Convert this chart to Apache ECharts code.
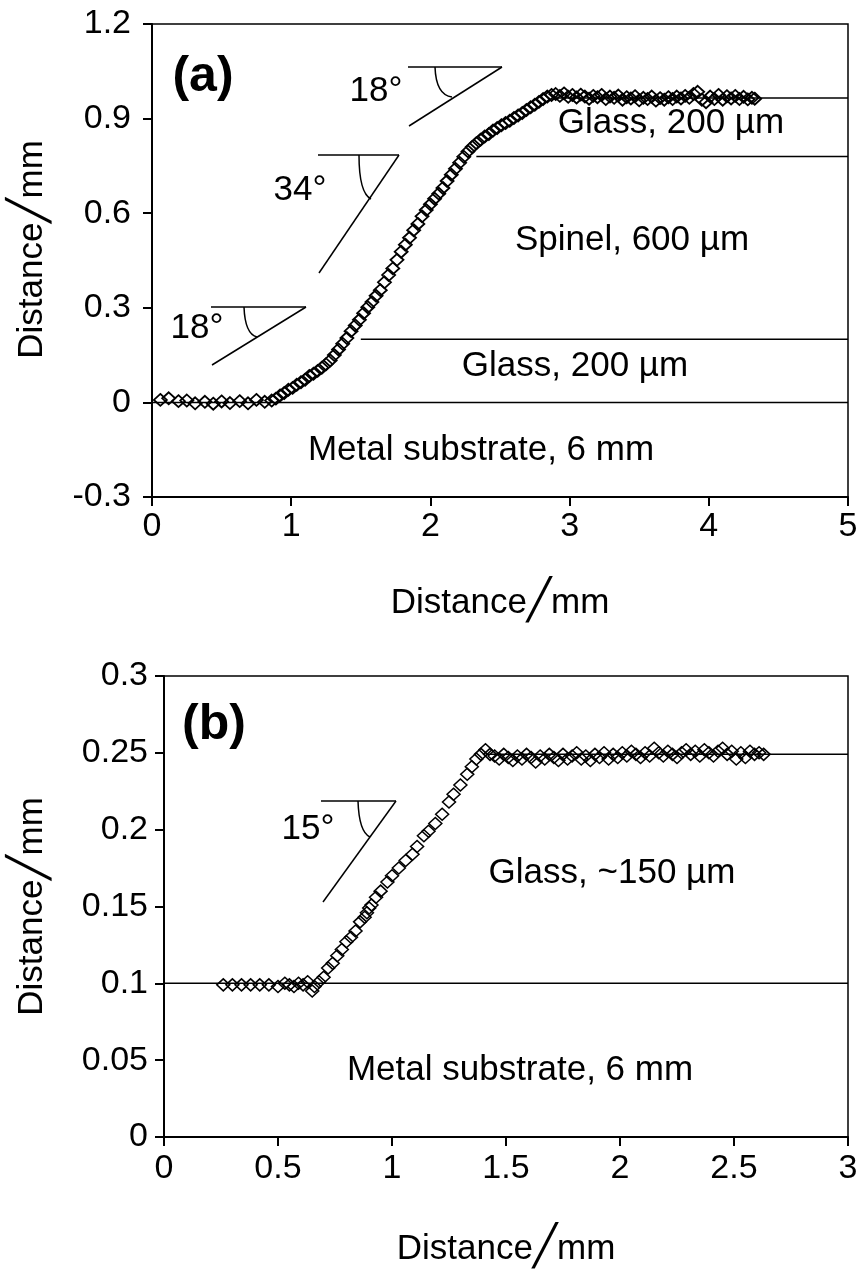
<!DOCTYPE html>
<html>
<head>
<meta charset="utf-8">
<script src="https://cdn.jsdelivr.net/npm/echarts@6/dist/echarts.min.js"></script>
<style>
  html, body { margin: 0; background: #fff; }
  #chart { width: 862px; height: 1270px; }
</style>
</head>
<body>
<div id="chart"></div>
<script>
// (a) height profile over spinel + glass coating, [x mm, y mm]
const profileA = [
  [0.06,0.008],[0.12,0.013],[0.19,0.004],[0.25,0.006],[0.31,-0.003],[0.38,0.002],[0.44,-0.004],
  [0.50,0.003],[0.56,-0.002],[0.63,0.004],[0.69,-0.003],[0.75,0.008],[0.81,0.002],
  [0.86,0.006],[0.89,0.012],[0.92,0.022],[0.95,0.030],[0.98,0.040],[1.01,0.046],[1.04,0.056],
  [1.07,0.064],[1.10,0.072],[1.13,0.084],[1.16,0.091],[1.19,0.100],[1.22,0.110],[1.25,0.121],
  [1.28,0.133],[1.31,0.150],[1.34,0.168],[1.37,0.186],[1.40,0.204],[1.43,0.226],[1.46,0.244],
  [1.49,0.262],[1.52,0.283],[1.55,0.302],[1.58,0.318],[1.61,0.338],[1.64,0.356],[1.67,0.381],
  [1.70,0.404],[1.73,0.425],[1.76,0.452],[1.79,0.478],[1.82,0.500],[1.85,0.522],[1.88,0.546],
  [1.91,0.566],[1.94,0.590],[1.97,0.610],[2.00,0.628],[2.03,0.646],[2.06,0.662],[2.09,0.680],
  [2.12,0.702],[2.15,0.722],[2.18,0.741],[2.21,0.760],[2.24,0.779],[2.27,0.796],[2.30,0.810],
  [2.33,0.822],[2.36,0.833],[2.39,0.843],[2.42,0.851],[2.45,0.862],[2.48,0.870],[2.51,0.879],
  [2.54,0.886],[2.57,0.893],[2.60,0.902],[2.63,0.910],[2.66,0.918],[2.69,0.927],[2.72,0.936],
  [2.75,0.944],[2.78,0.953],[2.81,0.962],[2.84,0.970],[2.87,0.975],
  [2.90,0.978],[2.93,0.972],[2.96,0.980],[2.99,0.969],[3.02,0.975],[3.05,0.967],[3.08,0.976],
  [3.11,0.970],[3.14,0.963],[3.17,0.972],[3.20,0.968],[3.23,0.975],[3.26,0.962],[3.29,0.970],
  [3.32,0.966],[3.35,0.973],[3.38,0.960],[3.41,0.968],[3.44,0.964],[3.47,0.971],[3.50,0.958],
  [3.53,0.966],[3.56,0.962],[3.59,0.970],[3.62,0.957],[3.65,0.965],[3.68,0.960],[3.71,0.968],
  [3.74,0.962],[3.77,0.970],[3.80,0.964],[3.83,0.972],[3.86,0.966],[3.89,0.978],[3.92,0.985],
  [3.95,0.960],[3.98,0.952],[4.01,0.970],[4.04,0.962],[4.07,0.975],[4.10,0.960],[4.13,0.971],
  [4.16,0.964],[4.19,0.972],[4.22,0.962],[4.25,0.969],[4.28,0.961],[4.31,0.966],[4.33,0.963]
];

// (b) height profile over glass-only coating
const profileB = [
  [0.26,0.099],[0.30,0.099],[0.34,0.099],[0.38,0.099],[0.42,0.099],[0.46,0.099],[0.50,0.098],
  [0.53,0.100],[0.55,0.099],[0.57,0.098],[0.59,0.100],[0.61,0.099],[0.63,0.101],[0.65,0.095],
  [0.66,0.098],[0.68,0.101],
  [0.70,0.104],[0.72,0.110],[0.74,0.113],[0.76,0.118],[0.78,0.122],[0.80,0.127],[0.82,0.130],
  [0.84,0.134],[0.86,0.140],[0.88,0.143],[0.89,0.146],[0.90,0.149],[0.91,0.151],[0.93,0.156],
  [0.95,0.160],[0.98,0.166],[1.00,0.170],[1.03,0.175],[1.06,0.180],[1.09,0.184],[1.11,0.189],
  [1.14,0.196],[1.16,0.199],[1.19,0.204],[1.22,0.210],[1.25,0.218],[1.27,0.223],[1.30,0.229],
  [1.33,0.236],[1.35,0.241],[1.37,0.246],[1.39,0.249],[1.41,0.252],[1.43,0.249],
  [1.45,0.248],[1.47,0.246],[1.49,0.249],[1.51,0.247],[1.53,0.245],[1.55,0.248],[1.57,0.246],
  [1.59,0.249],[1.61,0.247],[1.63,0.244],[1.65,0.248],[1.67,0.246],[1.69,0.249],[1.71,0.247],
  [1.73,0.245],[1.75,0.249],[1.77,0.246],[1.79,0.248],[1.81,0.250],[1.83,0.246],[1.85,0.248],
  [1.87,0.245],[1.89,0.249],[1.91,0.247],[1.93,0.250],[1.95,0.246],[1.97,0.249],[1.99,0.247],
  [2.01,0.250],[2.03,0.248],[2.05,0.251],[2.07,0.249],[2.09,0.247],[2.11,0.250],[2.13,0.248],
  [2.15,0.253],[2.17,0.250],[2.19,0.248],[2.21,0.251],[2.23,0.249],[2.25,0.247],[2.27,0.250],
  [2.29,0.252],[2.31,0.249],[2.33,0.251],[2.35,0.248],[2.37,0.252],[2.39,0.250],[2.41,0.248],
  [2.43,0.251],[2.45,0.253],[2.47,0.249],[2.49,0.251],[2.51,0.246],[2.53,0.250],[2.55,0.247],
  [2.57,0.251],[2.59,0.249],[2.61,0.250],[2.63,0.249]
];

// layer boundaries: [y, x from, x to]
const layerLinesA = [[0, 0, 5], [0.2, 1.5, 5], [0.78, 2.33, 5], [0.965, 2.9, 5]];
const layerLinesB = [[0.1, 0, 3], [0.249, 1.42, 3]];

// axis ranges: [min, max, interval]
const xRangeA = [0, 5, 1];
const yRangeA = [-0.3, 1.2, 0.3];
const xRangeB = [0, 3, 0.5];
const yRangeB = [0, 0.3, 0.05];

const layerLabelsA = ['Glass, 200 µm', 'Spinel, 600 µm', 'Glass, 200 µm', 'Metal substrate, 6 mm'];
const layerLabelsB = ['Glass, ~150 µm', 'Metal substrate, 6 mm'];
const angleLabelsA = ['18°', '34°', '18°'];
const angleLabelsB = ['15°'];
const panelTags = ['(a)', '(b)'];

const FONT = "'Liberation Sans', Arial, sans-serif";
const ink = '#000';

function seg(x1, y1, x2, y2) {
  return { type: 'line', shape: { x1, y1, x2, y2 }, style: { stroke: ink, lineWidth: 1.5 }, z: 5 };
}
function arc(x1, y1, cx, cy, x2, y2) {
  return { type: 'bezierCurve', shape: { x1, y1, cpx1: cx, cpy1: cy, x2, y2 },
    style: { stroke: ink, lineWidth: 1.5, fill: null }, z: 5 };
}
function label(text, x, y, size, weight) {
  return { type: 'text', x, y, z: 5,
    style: { text, fill: ink, fontSize: size, fontFamily: FONT, fontWeight: weight || 'normal',
      align: 'center', verticalAlign: 'middle', textAlign: 'center', textVerticalAlign: 'middle' } };
}

const axisName = '{t|Distance}{s|╱}{t|mm}';
function nameStyle(pad) {
  return { padding: pad, rich: {
    t: { fontSize: 35, fontFamily: FONT, color: ink },
    s: { fontSize: 40, fontFamily: "'DejaVu Sans'", color: ink }
  } };
}

function xAxisCfg(idx, r, gap, margin) {
  return {
    type: 'value', gridIndex: idx, min: r[0], max: r[1], interval: r[2],
    name: axisName, nameLocation: 'middle', nameGap: gap, nameTextStyle: nameStyle(0),
    axisLine: { onZero: false, lineStyle: { color: ink, width: 2 } },
    axisTick: { inside: false, length: 9, lineStyle: { color: ink, width: 2 } },
    axisLabel: { fontSize: 34, fontFamily: FONT, color: ink, margin },
    splitLine: { show: false }
  };
}
function yAxisCfg(idx, r, gap, margin, pad) {
  return {
    type: 'value', gridIndex: idx, min: r[0], max: r[1], interval: r[2],
    name: axisName, nameLocation: 'middle', nameGap: gap, nameTextStyle: nameStyle(pad),
    axisLine: { onZero: false, lineStyle: { color: ink, width: 2 } },
    axisTick: { inside: false, length: 9, lineStyle: { color: ink, width: 2 } },
    axisLabel: { fontSize: 34, fontFamily: FONT, color: ink, margin },
    splitLine: { show: false }
  };
}

function layerSeries(lines, idx) {
  return lines.map(l => ({
    type: 'line', xAxisIndex: idx, yAxisIndex: idx, data: [[l[1], l[0]], [l[2], l[0]]],
    symbol: 'none', silent: true, z: 2, lineStyle: { color: ink, width: 1.5 }
  }));
}
function profileSeries(data, idx, size, bw) {
  return {
    type: 'scatter', xAxisIndex: idx, yAxisIndex: idx, data, symbol: 'diamond',
    symbolSize: size, z: 3,
    itemStyle: { color: 'rgba(0,0,0,0)', borderColor: ink, borderWidth: bw, opacity: 1 }
  };
}

const chart = echarts.init(document.getElementById('chart'), null, { renderer: 'canvas' });
chart.setOption({
  backgroundColor: '#fff',
  animation: false,
  grid: [
    { left: 152, top: 24, width: 696, height: 473, show: true, borderColor: ink, borderWidth: 1.5 },
    { left: 164, top: 676, width: 684, height: 461, show: true, borderColor: ink, borderWidth: 1.5 }
  ],
  xAxis: [xAxisCfg(0, xRangeA, 86, 13), xAxisCfg(1, xRangeB, 92, 15)],
  yAxis: [yAxisCfg(0, yRangeA, 100, 21, [0, 0, 0, 22]), yAxisCfg(1, yRangeB, 112, 16, 0)],
  series: [
    ...layerSeries(layerLinesA, 0),
    ...layerSeries(layerLinesB, 1),
    profileSeries(profileA, 0, [13, 12], 1.8),
    profileSeries(profileB, 1, [13, 12], 1.5)
  ],
  graphic: [
    label(panelTags[0], 203, 77, 50, 'bold'),
    label(panelTags[1], 214, 725, 50, 'bold'),
    // angle markers, panel (a)
    seg(408, 67, 502, 67), seg(502, 67, 409, 126), arc(435, 67, 436, 95, 452, 97),
    seg(318, 155, 399, 155), seg(399, 155, 319, 273), arc(359, 155, 359, 193, 371, 199),
    seg(211, 307, 306, 307), seg(306, 307, 212, 365), arc(244, 307, 245, 334, 257, 337),
    label(angleLabelsA[0], 376, 91, 35),
    label(angleLabelsA[1], 300, 190, 35),
    label(angleLabelsA[2], 197, 328, 35),
    label(layerLabelsA[0], 671, 123, 35),
    label(layerLabelsA[1], 632, 240, 35),
    label(layerLabelsA[2], 575, 366, 35),
    label(layerLabelsA[3], 481, 450, 35),
    // angle marker, panel (b)
    seg(321, 801, 396, 801), seg(396, 801, 323, 902), arc(358, 801, 359, 832, 370, 837),
    label(angleLabelsB[0], 308, 829, 35),
    label(layerLabelsB[0], 612, 873, 35),
    label(layerLabelsB[1], 520, 1070, 35)
  ]
});
</script>
</body>
</html>
